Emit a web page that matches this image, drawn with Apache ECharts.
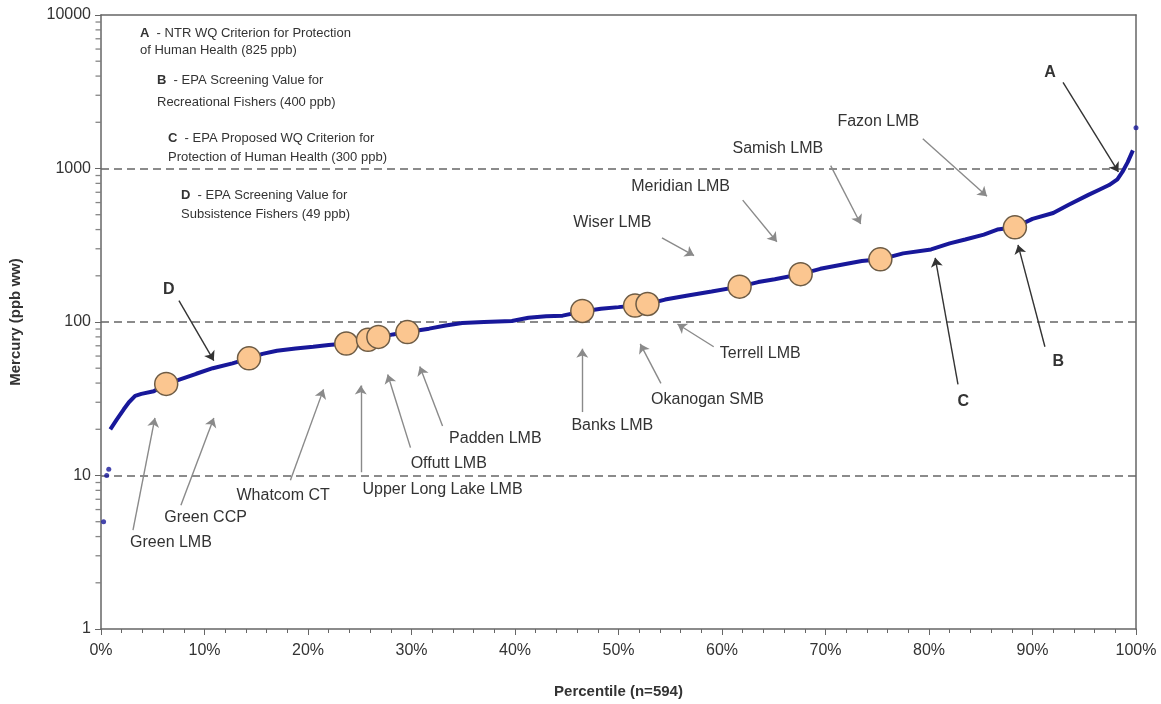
<!DOCTYPE html>
<html>
<head>
<meta charset="utf-8">
<script src="https://cdn.jsdelivr.net/npm/echarts@6/dist/echarts.min.js"></script>
<style>
  html, body { margin: 0; background: #fff; }
  #chart { width: 1161px; height: 704px; }
</style>
</head>
<body>
<div id="chart"></div>
<script>
// cumulative curve, percentile (%) vs mercury (ppb ww)
const curvePct = [0.9, 1.5, 2.2, 2.7, 3.3, 3.9, 5.1, 6.3, 7.5, 9.2, 10.8, 12.7, 14.3, 15.6, 17, 18.8, 20.5, 22, 23.7, 25.8, 26.8, 28.2, 29.6, 31.7, 33.3, 34.9, 37, 39.7, 41.3, 43, 44.6, 46.5, 48.3, 50, 51.6, 52.8, 54.5, 56.7, 59, 61.7, 63.5, 65.1, 67.6, 69.5, 71.8, 73.5, 75.3, 77.5, 80.2, 82, 83.5, 85.3, 86.6, 88.3, 90, 92, 93.5, 95.4, 96.5, 97.4, 98.2, 98.7, 99.2, 99.7]
const curveHg = [20, 23, 27, 30, 33, 34, 35.4, 39.5, 42, 46, 50, 53.8, 58, 62, 65, 67.3, 69, 70.7, 72.4, 76, 79, 83, 86, 90.5, 95, 98.6, 100, 101.4, 106.6, 109, 110, 117, 122, 125, 128, 131, 140, 149, 158, 170, 182, 190, 205, 222, 238, 250, 256, 280, 297, 325, 345, 371, 400, 414, 470, 513, 580, 673, 730, 780, 850, 953, 1100, 1313]

// isolated samples off the ends of the curve
const loosePct = [0.25, 0.55, 0.75, 100]
const looseHg = [5, 10, 11, 1840]

// highlighted sites
const siteNames = ['Green LMB', 'Green CCP', 'Whatcom CT', 'Upper Long Lake LMB', 'Offutt LMB', 'Padden LMB', 'Banks LMB', 'Okanogan SMB', 'Terrell LMB', 'Wiser LMB', 'Meridian LMB', 'Samish LMB', 'Fazon LMB']
const sitePct = [6.3, 14.3, 23.7, 25.8, 26.8, 29.6, 46.5, 51.6, 52.8, 61.7, 67.6, 75.3, 88.3]
const siteHg = [39.5, 58, 72.4, 76.5, 80, 86, 118, 128, 131, 170, 205, 256, 414]

// criteria legend
const criteriaKeys = ['A', 'B', 'C', 'D']
const criteriaText = [
  ['- NTR WQ Criterion for Protection', 'of Human Health (825 ppb)'],
  ['- EPA Screening Value for', 'Recreational Fishers (400 ppb)'],
  ['- EPA Proposed WQ Criterion for', 'Protection of Human Health (300 ppb)'],
  ['- EPA Screening Value for', 'Subsistence Fishers (49 ppb)']
]

// callouts: label text, label spot, arrow tail, arrow head (all in data units)
const callouts = [
  { text: 'A', at: [91.7, 4225], from: [92.95, 3640], to: [98.3, 950], dark: true },
  { text: 'B', at: [92.5, 55], from: [91.2, 69], to: [88.6, 318], dark: true },
  { text: 'C', at: [83.3, 30.5], from: [82.8, 39.2], to: [80.6, 262], dark: true },
  { text: 'D', at: [6.56, 163], from: [7.53, 138], to: [10.9, 56], dark: true },
  { text: 'Fazon LMB', at: [75.1, 2010], from: [79.4, 1563], to: [85.6, 660] },
  { text: 'Samish LMB', at: [65.4, 1346], from: [70.5, 1045], to: [73.4, 435] },
  { text: 'Meridian LMB', at: [56.0, 765], from: [62.0, 622], to: [65.3, 333] },
  { text: 'Wiser LMB', at: [49.4, 442], from: [54.2, 353], to: [57.3, 271] },
  { text: 'Terrell LMB', at: [63.7, 62.2], from: [59.2, 69], to: [55.7, 97] },
  { text: 'Okanogan SMB', at: [58.6, 31.4], from: [54.1, 39.8], to: [52.1, 72] },
  { text: 'Banks LMB', at: [49.4, 21], from: [46.5, 25.9], to: [46.5, 67] },
  { text: 'Padden LMB', at: [38.1, 17.3], from: [33.0, 21], to: [30.8, 51.3] },
  { text: 'Offutt LMB', at: [33.6, 11.9], from: [29.9, 15.2], to: [27.7, 45.5] },
  { text: 'Upper Long Lake LMB', at: [33.0, 8.1], from: [25.1, 10.5], to: [25.1, 38.6] },
  { text: 'Whatcom CT', at: [17.6, 7.4], from: [18.3, 9.3], to: [21.5, 36.4] },
  { text: 'Green CCP', at: [10.1, 5.3], from: [7.72, 6.4], to: [10.9, 23.7] },
  { text: 'Green LMB', at: [6.76, 3.64], from: [3.09, 4.4], to: [5.21, 23.7] }
]

const TEXT = '#333'
const AXIS = '#666'
const FONT = 'Liberation Sans, Arial, sans-serif'

// log minor ticks on the y axis (2..9 in each decade)
const yMinor = []
for (let d = 1; d < 10000; d *= 10) {
  for (let k = 2; k <= 9; k++) yMinor.push([0, k * d])
}

const legendGraphics = []
const legendSpots = [[140, 33, 50], [157, 80, 102], [168, 138, 157], [181, 195, 214]]
criteriaKeys.forEach((k, i) => {
  const [x, y1, y2] = legendSpots[i]
  legendGraphics.push({
    type: 'text', x: x, y: y1,
    style: {
      text: '{b|' + k + '}  ' + criteriaText[i][0],
      fill: TEXT, font: '13px ' + FONT, verticalAlign: 'middle',
      rich: { b: { fontWeight: 'bold', fontSize: 13, fill: TEXT } }
    }
  })
  legendGraphics.push({
    type: 'text', x: x, y: y2,
    style: { text: criteriaText[i][1], fill: TEXT, font: '13px ' + FONT, verticalAlign: 'middle' }
  })
})

const chart = echarts.init(document.getElementById('chart'))
chart.setOption({
  animation: false,
  textStyle: { fontFamily: FONT },
  grid: { left: 100, right: 25, top: 15, bottom: 69 },
  xAxis: [
    {
      type: 'value', min: 0, max: 100, interval: 10,
      name: 'Percentile (n=594)', nameLocation: 'middle', nameGap: 55,
      nameTextStyle: { fontWeight: 'bold', fontSize: 15, color: TEXT },
      axisLine: { lineStyle: { color: AXIS, width: 1.5 } },
      axisTick: { show: true, length: 6, lineStyle: { color: AXIS } },
      minorTick: { show: true, splitNumber: 5, length: 4, lineStyle: { color: AXIS } },
      splitLine: { show: false },
      axisLabel: { formatter: '{value}%', fontSize: 16, color: TEXT, margin: 14 }
    },
    {
      // plain top frame line
      type: 'value', position: 'top', min: 0, max: 100,
      axisLine: { show: true, onZero: false, lineStyle: { color: AXIS, width: 1.5 } },
      axisTick: { show: false }, axisLabel: { show: false }, splitLine: { show: false }
    }
  ],
  yAxis: [
    {
      type: 'log', logBase: 10, min: 1, max: 10000,
      name: 'Mercury (ppb ww)', nameLocation: 'middle', nameGap: 78,
      nameTextStyle: { fontWeight: 'bold', fontSize: 15, color: TEXT },
      axisLine: { show: true, lineStyle: { color: AXIS, width: 1.5 } },
      axisTick: { show: true, length: 6, lineStyle: { color: AXIS } },
      splitLine: {
        show: true, showMinLine: false, showMaxLine: false,
        lineStyle: { color: AXIS, width: 1.5, type: [8, 5] }
      },
      axisLabel: { fontSize: 16, color: TEXT, margin: 10, formatter: v => String(v) }
    },
    {
      // plain right frame line
      type: 'log', logBase: 10, min: 1, max: 10000, position: 'right',
      axisLine: { show: true, onZero: false, lineStyle: { color: AXIS, width: 1.5 } },
      axisTick: { show: false }, axisLabel: { show: false }, splitLine: { show: false }
    }
  ],
  graphic: legendGraphics,
  series: [
    {
      type: 'scatter', data: yMinor, symbol: 'rect', symbolSize: [5, 1.3],
      symbolOffset: [-3, 0], clip: false, silent: true,
      itemStyle: { color: AXIS }, z: 1
    },
    {
      type: 'line', data: curvePct.map((p, i) => [p, curveHg[i]]),
      showSymbol: false, silent: true,
      lineStyle: { color: '#18189a', width: 4 }, z: 3,
      markLine: {
        silent: true, symbol: ['none', 'arrow'], symbolSize: 9,
        label: { show: false },
        data: callouts.map(c => [
          { coord: c.from, lineStyle: { color: c.dark ? '#333' : '#8a8a8a', width: 1.4, type: 'solid' } },
          { coord: c.to }
        ])
      },
      markPoint: {
        silent: true, symbolSize: 0,
        label: { show: true, position: 'inside', formatter: p => p.name, color: TEXT, fontSize: 16 },
        data: callouts.map(c => ({
          name: c.text, coord: c.at,
          label: c.dark ? { fontWeight: 'bold', fontSize: 16 } : {}
        }))
      }
    },
    {
      type: 'scatter', data: loosePct.map((p, i) => [p, looseHg[i]]),
      symbolSize: 5, itemStyle: { color: '#18189a' }, clip: false, z: 3, silent: true
    },
    {
      type: 'scatter', data: sitePct.map((p, i) => ({ name: siteNames[i], value: [p, siteHg[i]] })),
      symbolSize: 23, z: 5, silent: true,
      itemStyle: { color: '#fbc690', borderColor: '#6e5c45', borderWidth: 1.5, opacity: 1 }
    }
  ]
})
</script>
</body>
</html>
